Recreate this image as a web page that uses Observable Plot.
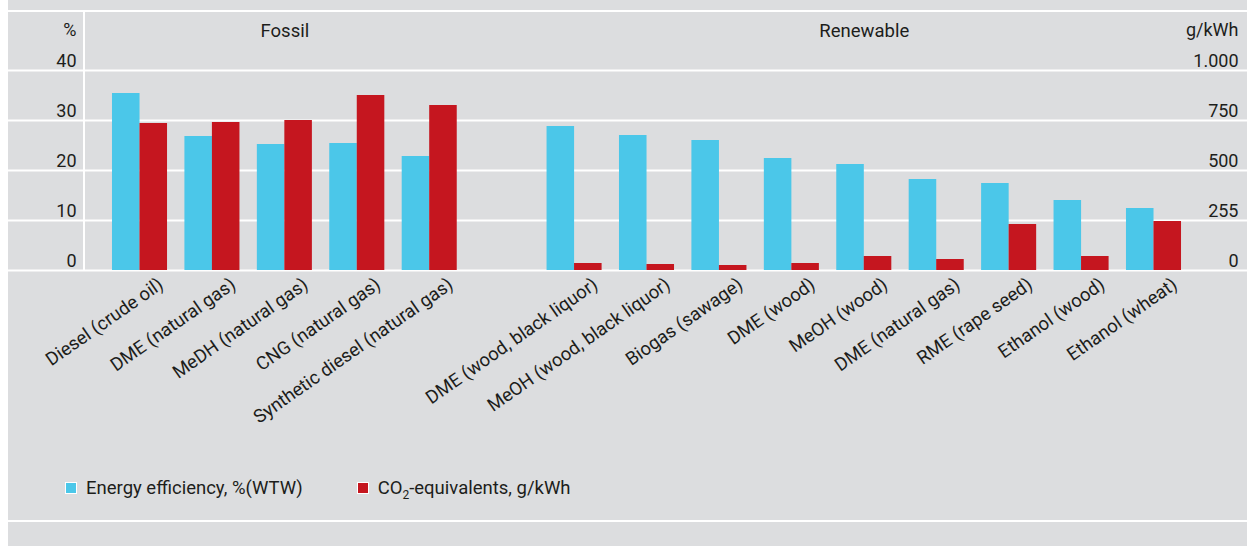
<!DOCTYPE html>
<html>
<head>
<meta charset="utf-8">
<script src="https://cdn.jsdelivr.net/npm/d3@7"></script>
<script src="https://cdn.jsdelivr.net/npm/@observablehq/plot@0.6"></script>
<style>
  html, body { margin: 0; padding: 0; background: #ffffff; }
  #wrap { position: absolute; left: 8px; top: 0; width: 1239px; height: 546px; background: #dcdddf; overflow: hidden; font-family: Roboto, "Open Sans", sans-serif; color: #1d1d1b; }
  #chart { position: absolute; left: 0; top: 0; }
  .hl { position: absolute; left: 0; right: 0; height: 2px; background: #ffffff; }
  .vl { position: absolute; width: 2px; background: #ffffff; }
  #legend { position: absolute; left: 57px; top: 477px; font-size: 18.5px; display: flex; align-items: center; white-space: nowrap; }
  .item { display: flex; align-items: center; }
  .sw { width: 12px; height: 12px; border: 1px solid #ffffff; margin-right: 9px; box-sizing: border-box; }
  sub { font-size: 12px; vertical-align: -5px; line-height: 0; }
</style>
</head>
<body>
<div id="wrap">
  <div class="hl" style="top:10px"></div>
  <div class="hl" style="top:520px"></div>
  <div class="vl" style="left:75px; top:10px; height:261px"></div>
  <div id="chart"></div>
  <div id="legend"></div>
</div>
<script>
// ---- data ----
const fossilNames = ["Diesel (crude oil)", "DME (natural gas)", "MeDH (natural gas)", "CNG (natural gas)", "Synthetic diesel (natural gas)"];
const fossilEfficiency = [35.4, 26.8, 25.2, 25.4, 22.8];          // %
const fossilCO2 = [735, 740, 750, 875, 825];                       // g/kWh

const renewableNames = ["DME (wood, black liquor)", "MeOH (wood, black liquor)", "Biogas (sawage)", "DME (wood)", "MeOH (wood)", "DME (natural gas)", "RME (rape seed)", "Ethanol (wood)", "Ethanol (wheat)"];
const renewableEfficiency = [28.8, 27.0, 26.0, 22.4, 21.2, 18.2, 17.4, 14.0, 12.4];
const renewableCO2 = [35, 30, 25, 35, 70, 55, 230, 70, 245];

const groupLabels = ["Fossil", "Renewable"];
const pctTicks = [0, 10, 20, 30, 40];
const co2Ticks = [0, 250, 500, 750, 1000];
const co2TickLabels = ["0", "255", "500", "750", "1.000"];
const pctUnit = "%";
const co2Unit = "g/kWh";
const seriesLabels = ["Energy efficiency, %(WTW)", "CO<sub>2</sub>-equivalents, g/kWh"];

// ---- build table ----
const rows = [];
fossilNames.forEach((n, i) => rows.push({key: "F" + i, name: n, group: "Fossil", eff: fossilEfficiency[i], co2: fossilCO2[i]}));
const gapKey = "gap";
renewableNames.forEach((n, i) => rows.push({key: "R" + i, name: n, group: "Renewable", eff: renewableEfficiency[i], co2: renewableCO2[i]}));
const keys = [...fossilNames.map((_, i) => "F" + i), gapKey, ...renewableNames.map((_, i) => "R" + i)];

// CO2 axis shares the pixel range: 1000 g/kWh <-> 40 %
const co2ToPct = v => v * 40 / 1000;

const BLUE = "#4bc7e9";
const RED = "#c5161f";
const INK = "#1d1d1b";

const W = 1239, H = 546;
const ML = 86.6, MR = 48.6, MT = 70, MB = 276;
const half = 27.5;

const groupCenters = [
  {key: "F2", label: groupLabels[0]},
  {key: "R4", label: groupLabels[1]}
];

const chart = Plot.plot({
  width: W,
  height: H,
  marginLeft: ML,
  marginRight: MR,
  marginTop: MT,
  marginBottom: MB,
  style: {background: "transparent", fontFamily: "Roboto, 'Open Sans', sans-serif", color: INK, overflow: "visible"},
  x: {type: "band", domain: keys, padding: 0.24, round: false, axis: null},
  y: {domain: [0, 40], axis: null},
  marks: [
    Plot.ruleY(pctTicks, {stroke: "#ffffff", strokeWidth: 2, insetLeft: -ML, insetRight: -MR}),
    Plot.barY(rows, {x: "key", y: "eff", fill: BLUE, insetRight: half}),
    Plot.barY(rows, {x: "key", y: d => co2ToPct(d.co2), fill: RED, insetLeft: half}),
    // left axis
    Plot.text(pctTicks, {y: d => d, text: d => String(d), frameAnchor: "left", textAnchor: "end", lineAnchor: "middle", dx: -(ML - 68), dy: -9, fontSize: 18, fill: INK}),
    Plot.text([pctUnit], {text: d => d, frameAnchor: "top-left", textAnchor: "end", lineAnchor: "middle", dx: -(ML - 68), dy: -40, fontSize: 18, fill: INK}),
    // right axis
    Plot.text(co2Ticks, {y: d => co2ToPct(d), text: (d, i) => co2TickLabels[i], frameAnchor: "right", textAnchor: "end", lineAnchor: "middle", dx: 1230 - (W - MR), dy: -9, fontSize: 18, fill: INK}),
    Plot.text([co2Unit], {text: d => d, frameAnchor: "top-right", textAnchor: "end", lineAnchor: "middle", dx: 1230 - (W - MR), dy: -40, fontSize: 18, fill: INK}),
    // group labels
    Plot.text(groupCenters, {x: "key", text: "label", frameAnchor: "top", lineAnchor: "middle", dy: -39, fontSize: 18.5, fill: INK}),
    // category labels
    Plot.text(rows, {x: "key", text: "name", frameAnchor: "bottom", textAnchor: "end", lineAnchor: "top", rotate: -35, dx: 17, dy: 6, fontSize: 18.5, fill: INK})
  ]
});
document.getElementById("chart").appendChild(chart);

// legend
const legend = document.getElementById("legend");
[[BLUE, seriesLabels[0], 0], [RED, seriesLabels[1], 54]].forEach(([c, t, gap]) => {
  const it = document.createElement("div");
  it.className = "item";
  it.style.marginLeft = gap + "px";
  it.innerHTML = `<span class="sw" style="background:${c}"></span><span>${t}</span>`;
  legend.appendChild(it);
});
</script>
</body>
</html>
